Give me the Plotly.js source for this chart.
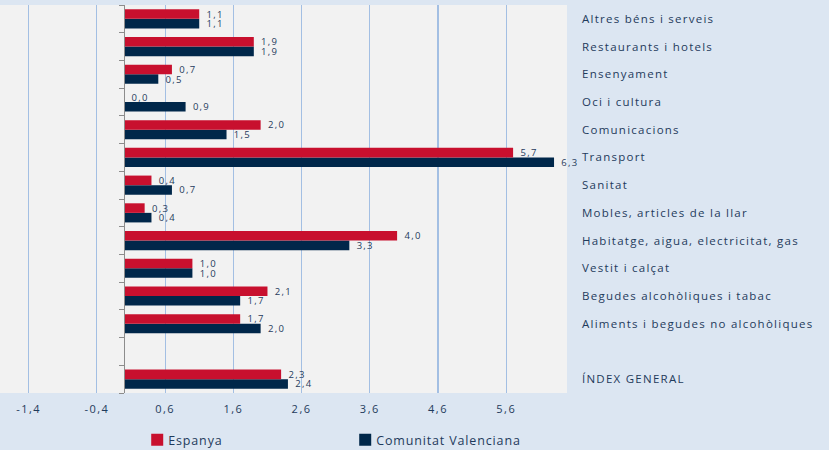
<!DOCTYPE html>
<html>
<head>
<meta charset="utf-8">
<script src="https://cdn.plot.ly/plotly-3.0.1.min.js"></script>
<style>
html,body{margin:0;padding:0;background:#DCE6F2;}
#chart{width:829px;height:450px;}
#chart .xtick text{letter-spacing:1.5px;}
#chart .ytick text{letter-spacing:1.25px;}
#chart text.bartext{letter-spacing:1.3px;}
#chart text.legendtext{letter-spacing:0.85px;transform:translateX(-9px);}
</style>
</head>
<body>
<div id="chart"></div>
<script>
// Categories, bottom to top
const categories = [
  "ÍNDEX GENERAL",
  " ",
  "Aliments i begudes no alcohòliques",
  "Begudes alcohòliques i tabac",
  "Vestit i calçat",
  "Habitatge, aigua, electricitat, gas",
  "Mobles, articles de la llar",
  "Sanitat",
  "Transport",
  "Comunicacions",
  "Oci i cultura",
  "Ensenyament",
  "Restaurants i hotels",
  "Altres béns i serveis"
];
const espanya =    [2.3, null, 1.7, 2.1, 1.0, 4.0, 0.3, 0.4, 5.7, 2.0, 0.0, 0.7, 1.9, 1.1];
const valenciana = [2.4, null, 2.0, 1.7, 1.0, 3.3, 0.4, 0.7, 6.3, 1.5, 0.9, 0.5, 1.9, 1.1];
const xTickVals = [-1.4, -0.4, 0.6, 1.6, 2.6, 3.6, 4.6, 5.6];
const xTickText = ["-1,4", "-0,4", "0,6", "1,6", "2,6", "3,6", "4,6", "5,6"];

const textColor = "#1F3B5C";
const xRange = [-1.82, 6.49];
const zeroPos = (0 - xRange[0]) / (xRange[1] - xRange[0]);
const fmt = v => v === null ? "" : "  " + v.toFixed(1).replace(".", ",");
const fontFam = "Open Sans, sans-serif";

const traces = [
  {
    type: "bar", orientation: "h", name: "Comunitat Valenciana",
    y: categories, x: valenciana,
    marker: {color: "#00274A"},
    text: valenciana.map(fmt),
    textposition: "outside", cliponaxis: false, constraintext: "none",
    textfont: {family: fontFam, size: 9.5, color: textColor},
    legendrank: 2, hoverinfo: "x+name"
  },
  {
    type: "bar", orientation: "h", name: "Espanya",
    y: categories, x: espanya,
    marker: {color: "#C8102E"},
    text: espanya.map(fmt),
    textposition: "outside", cliponaxis: false, constraintext: "none",
    textfont: {family: fontFam, size: 9.5, color: textColor},
    legendrank: 1, hoverinfo: "x+name"
  },
  {
    type: "scatter", mode: "markers", y: categories, x: categories.map(() => 0),
    yaxis: "y2", marker: {opacity: 0}, showlegend: false, hoverinfo: "skip"
  }
];

const layout = {
  width: 829, height: 450,
  paper_bgcolor: "#DCE6F2", plot_bgcolor: "#F2F2F2",
  margin: {l: 0, r: 262, t: 5, b: 57},
  separators: ",.",
  barmode: "group", bargap: 0.31, bargroupgap: 0,
  font: {family: fontFam, size: 12, color: textColor},
  showlegend: true,
  legend: {
    orientation: "h", x: 0.242, xanchor: "left",
    yref: "container", y: 0.022, yanchor: "middle",
    entrywidth: 163, entrywidthmode: "pixels",
    font: {family: fontFam, size: 12.5, color: textColor},
    bgcolor: "rgba(0,0,0,0)"
  },
  xaxis: {
    range: xRange, tickvals: xTickVals, ticktext: xTickText,
    showgrid: true, gridcolor: "#A3BFE3", gridwidth: 1.2,
    zeroline: true, zerolinecolor: "#8C8C8C", zerolinewidth: 1.2,
    ticks: "outside", ticklen: 6, tickcolor: "rgba(0,0,0,0)",
    tickfont: {family: fontFam, size: 11, color: textColor},
    showline: false, fixedrange: true
  },
  yaxis: {
    type: "category", categoryorder: "array", categoryarray: categories,
    range: [-0.5, 13.5], side: "right", showgrid: false, zeroline: false,
    ticks: "", ticklabelstandoff: 14, showline: false,
    tickfont: {family: fontFam, size: 11.5, color: textColor},
    fixedrange: true
  },
  yaxis2: {
    type: "category", categoryorder: "array", categoryarray: categories,
    overlaying: "y", anchor: "free", position: zeroPos, side: "left",
    range: [-0.5, 13.5], showgrid: false, zeroline: false,
    showticklabels: false, ticks: "outside", ticklen: 5, tickson: "boundaries",
    tickcolor: "#8C8C8C", showline: true, linecolor: "#8C8C8C", linewidth: 1.2,
    fixedrange: true
  }
};

Plotly.newPlot("chart", traces, layout, {displayModeBar: false, staticPlot: true});
</script>
</body>
</html>
